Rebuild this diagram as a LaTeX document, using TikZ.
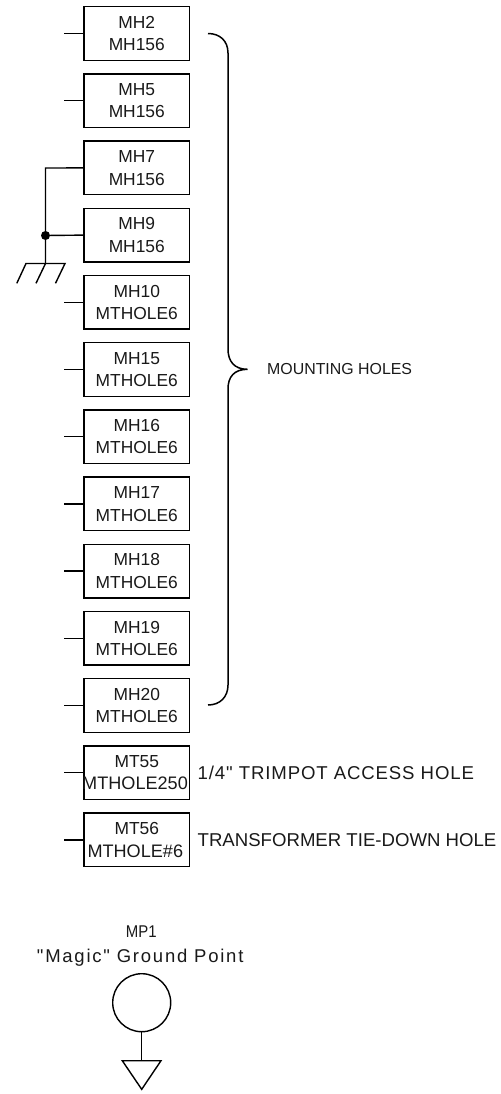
\documentclass[tikz,border=0pt]{standalone}
\usepackage{fontspec}
\setmainfont[Ligatures=Common]{Liberation Sans}
\newfontfamily\spacedfont[LetterSpace=9.5]{Liberation Sans}
\newfontfamily\trimfont[LetterSpace=4.7]{Liberation Sans}
\newfontfamily\narrowfont[FakeStretch=0.88]{Liberation Sans}
\begin{document}
\begin{tikzpicture}[x=1bp,y=-1bp,
  wire/.style={line width=1.4bp,black},
  holebox/.style={draw,wire,minimum width=105.5bp,minimum height=53.5bp,inner sep=0pt,align=center,font=\fontsize{17.4bp}{22.5bp}\selectfont,text=black!90},
  note/.style={anchor=west,inner sep=0pt,text=black!90,font=\fontsize{18.6bp}{20bp}\selectfont},
  small/.style={inner sep=0pt,text=black!90,font=\fontsize{15.9bp}{18bp}\selectfont}]
\useasboundingbox (0,0) rectangle (501,1094);
\foreach \n/\a/\b [count=\i from 0] in {MHa/MH2/MH156,MHb/MH5/MH156,MHc/MH7/MH156,MHd/MH9/MH156,MHe/MH10/MTHOLE6,MHf/MH15/MTHOLE6,MHg/MH16/MTHOLE6,MHh/MH17/MTHOLE6,MHi/MH18/MTHOLE6,MHj/MH19/MTHOLE6,MHk/MH20/MTHOLE6,MTa/MT55/{\fontsize{18.1bp}{22.5bp}\selectfont\hspace*{-3.5bp}MTHOLE250},MTb/MT56/{\fontsize{18.1bp}{22.5bp}\selectfont\hspace*{-3bp}MTHOLE\#6}}{
  \node[holebox] (\n) at (136.8,{33.5+67.2*\i}) {\a\\\b};
  \coordinate (\n stub) at (64,{33.5+67.2*\i});
}
\foreach \n in {MHa,MHb,MHe,MHf,MHg,MHh,MHi,MHj,MHk,MTa,MTb}
  \draw[wire] (\n stub) -- (\n.west);
% ground
\coordinate (gtop) at (45.5,168);
\node[circle,fill=black,inner sep=0pt,minimum size=9bp] (dot) at (45.5,235.5) {};
\coordinate (gnd) at (45.5,263.5);
\coordinate (gl) at (26,263.5);
\coordinate (gr) at (65,263.5);
\coordinate (glb) at (16.8,283.3);
\coordinate (gmb) at (36,283.3);
\coordinate (grb) at (55.5,283.3);
\draw[wire] (MHc.west) -- (gtop) -- (dot.center) -- (gnd);
\draw[wire] (MHd.west) -- (dot);
\draw[wire] (glb) -- (gl) -- (gr) -- (grb);
\draw[wire] (gnd) -- (gmb);
% brace
\coordinate (bt) at (208,33.5);
\coordinate (bb) at (208,705);
\coordinate (btip) at (247.5,369.3);
\draw[wire,line width=1.5bp] (bt) .. controls (220,33.5) and (228,41) .. (228,53)
  -- (228,349) .. controls (228,361) and (234,369.3) .. (btip)
  .. controls (234,369.3) and (228,377) .. (228,389)
  -- (228,685) .. controls (228,697) and (220,705) .. (bb);
\node[small,anchor=west] (lab) at (267,369.5) {MOUNTING HOLES};
\node[note] (n1) at (197.5,773) {\trimfont 1/4" TRIMPOT ACCESS HOLE};
\node[note] (n2) at (197.5,840) {TRANSFORMER TIE-DOWN HOLE};
% magic ground
\node[small,font=\fontsize{17bp}{18bp}\selectfont] (mp) at (141.3,932) {\narrowfont MP1};
\node[small,font=\fontsize{18.5bp}{18bp}\selectfont] (mg) at (140.2,957.5) {\spacedfont "Magic" Ground Point};
\node[draw,wire,circle,minimum size=58bp,inner sep=0pt] (c) at (141.7,1002.7) {};
\coordinate (tri) at (141.7,1060.7);
\coordinate (tl) at (122.3,1060.7);
\coordinate (tr) at (161,1060.7);
\coordinate (tb) at (141.7,1089.3);
\draw[wire] (c.south) -- (tri);
\draw[wire,line join=miter] (tl) -- (tr) -- (tb) -- cycle;
\end{tikzpicture}
\end{document}
